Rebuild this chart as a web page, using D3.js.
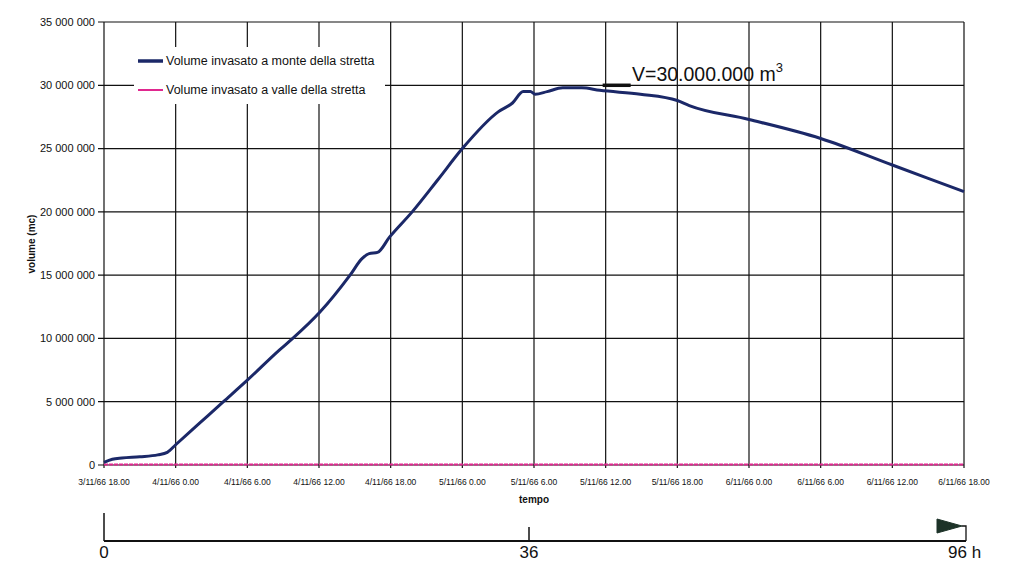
<!DOCTYPE html>
<html>
<head>
<meta charset="utf-8">
<script src="https://cdn.jsdelivr.net/npm/d3@7"></script>
<style>
  body { margin: 0; background: #fff; }
  svg { display: block; font-family: "Liberation Sans", Arial, sans-serif; }
</style>
</head>
<body>
<svg id="chart" width="1029" height="581"></svg>
<script>
// hours from 3/11/66 18.00
const upHours = [0, 0.7, 1.5, 3, 4.5, 5.3, 6, 8, 10, 12, 14.7, 15.8, 18.1, 20.6, 21.6, 22.2, 22.9, 23.9, 25.8, 28, 30, 33, 34.2, 35.1, 35.7, 36.1, 37.1, 38.4, 40, 41.5, 44.9, 48, 49, 54, 60, 66, 72];
const upVolume = [0.2e6, 0.45e6, 0.55e6, 0.65e6, 0.8e6, 1.0e6, 1.6e6, 3.3e6, 5.0e6, 6.7e6, 9.1e6, 10.0e6, 12.1e6, 15.0e6, 16.3e6, 16.7e6, 16.8e6, 18.0e6, 20.0e6, 22.6e6, 25.0e6, 27.9e6, 28.6e6, 29.5e6, 29.5e6, 29.3e6, 29.5e6, 29.8e6, 29.8e6, 29.6e6, 29.3e6, 28.8e6, 28.4e6, 27.3e6, 25.8e6, 23.7e6, 21.6e6];

const downHours = [0, 12, 24, 36, 48, 60, 72];
const downVolume = [40000, 40000, 40000, 40000, 40000, 40000, 40000];

const xTickHours = [0, 6, 12, 18, 24, 30, 36, 42, 48, 54, 60, 66, 72];
const xTickLabels = ["3/11/66 18.00", "4/11/66 0.00", "4/11/66 6.00", "4/11/66 12.00", "4/11/66 18.00",
  "5/11/66 0.00", "5/11/66 6.00", "5/11/66 12.00", "5/11/66 18.00", "6/11/66 0.00",
  "6/11/66 6.00", "6/11/66 12.00", "6/11/66 18.00"];
const yTicks = [0, 5e6, 10e6, 15e6, 20e6, 25e6, 30e6, 35e6];

const seriesNames = ["Volume invasato a monte della stretta", "Volume invasato a valle della stretta"];
const seriesColors = ["#1b2868", "#e0288f"];

// schematic time bar below the chart
const barTicks = [0, 36, 96];
const barLabels = ["0", "36", "96 h"];

const svg = d3.select("#chart");

const x = d3.scaleLinear().domain([0, 72]).range([104, 964]);
const y = d3.scaleLinear().domain([0, 35e6]).range([465, 22]);

const fmt = v => d3.format(",")(v).replace(/,/g, " ");

// grid
const grid = svg.append("g");
grid.selectAll(".hg").data(yTicks).enter().append("line")
  .attr("x1", x(0) - 6).attr("x2", x(72))
  .attr("y1", d => y(d)).attr("y2", d => y(d))
  .style("stroke", "#111").style("stroke-width", 1.2);
grid.selectAll(".vg").data(xTickHours).enter().append("line")
  .attr("x1", d => x(d)).attr("x2", d => x(d))
  .attr("y1", y(35e6)).attr("y2", y(0) + 3)
  .style("stroke", "#111").style("stroke-width", 1.2);

// y tick labels
svg.selectAll(".yl").data(yTicks).enter().append("text")
  .attr("x", 95).attr("y", d => y(d)).attr("dy", "0.35em")
  .attr("text-anchor", "end")
  .style("font-size", "11px").attr("fill", "#111")
  .text(d => fmt(d));

// x tick labels
svg.selectAll(".xl").data(xTickHours).enter().append("text")
  .attr("x", d => x(d)).attr("y", 485)
  .attr("text-anchor", "middle")
  .style("font-size", "8.5px").attr("fill", "#111")
  .text((d, i) => xTickLabels[i]);

// axis titles
svg.append("text")
  .attr("x", 534).attr("y", 503).attr("text-anchor", "middle")
  .style("font-size", "10px").style("font-weight", "bold").attr("fill", "#111")
  .text("tempo");
svg.append("text")
  .attr("transform", "translate(35,244) rotate(-90)")
  .attr("text-anchor", "middle")
  .style("font-size", "10px").style("font-weight", "bold").attr("fill", "#111")
  .text("volume (mc)");

// legend background and entries
svg.append("rect")
  .attr("x", 134).attr("y", 47).attr("width", 251).attr("height", 57)
  .attr("fill", "#fff");
const legend = svg.selectAll(".lg").data(seriesNames).enter().append("g")
  .attr("transform", (d, i) => "translate(138," + (61 + i * 29) + ")");
legend.append("line")
  .attr("x1", 0).attr("x2", 25).attr("y1", 0).attr("y2", 0)
  .style("stroke", (d, i) => seriesColors[i])
  .style("stroke-width", (d, i) => i === 0 ? 3.5 : 2);
legend.append("text")
  .attr("x", 28).attr("dy", "0.35em")
  .style("font-size", "12.5px").attr("fill", "#111")
  .text(d => d);

// series
const line = d3.line().x(d => x(d[0])).y(d => y(d[1]));
svg.append("path")
  .datum(downHours.map((h, i) => [h, downVolume[i]]))
  .attr("d", line)
  .style("fill", "none").style("stroke", seriesColors[1])
  .style("stroke-width", 2).style("stroke-dasharray", "4,1");
svg.append("path")
  .datum(upHours.map((h, i) => [h, upVolume[i]]))
  .attr("d", line.curve(d3.curveMonotoneX))
  .style("fill", "none").style("stroke", seriesColors[0])
  .style("stroke-width", 3).style("stroke-linejoin", "round");

// annotation
svg.append("line")
  .attr("x1", x(42) - 3).attr("x2", x(42) + 25)
  .attr("y1", y(30e6)).attr("y2", y(30e6))
  .style("stroke", "#111").style("stroke-width", 3.5);
const ann = svg.append("text")
  .attr("x", 632).attr("y", 81)
  .style("font-size", "19.5px").attr("fill", "#111");
ann.append("tspan").text("V=30.000.000 m");
ann.append("tspan").attr("dy", -9).style("font-size", "13px").text("3");

// schematic time bar
const tb = d3.scaleLinear().domain(barTicks).range([104, 529, 966]);
svg.append("line")
  .attr("x1", tb(0)).attr("x2", tb(96)).attr("y1", 541).attr("y2", 541)
  .style("stroke", "#111").style("stroke-width", 2);
svg.append("line")
  .attr("x1", tb(0)).attr("x2", tb(0)).attr("y1", 513).attr("y2", 541)
  .style("stroke", "#111").style("stroke-width", 1.5);
svg.append("line")
  .attr("x1", tb(36)).attr("x2", tb(36)).attr("y1", 527).attr("y2", 541)
  .style("stroke", "#111").style("stroke-width", 1.5);
svg.append("path")
  .attr("d", "M" + (tb(96) - 29) + ",519 L" + (tb(96) - 4) + ",526 L" + (tb(96) - 29) + ",533 Z")
  .attr("fill", "#1d3328").attr("stroke", "#1d3328");
svg.append("path")
  .attr("d", "M" + (tb(96) - 4) + ",526 L" + tb(96) + ",526 L" + tb(96) + ",541")
  .attr("fill", "none").style("stroke", "#111").style("stroke-width", 1.3);
svg.selectAll(".bl").data(barTicks).enter().append("text")
  .attr("x", d => d === 96 ? tb(d) - 18 : tb(d))
  .attr("y", 558)
  .attr("text-anchor", d => d === 96 ? "start" : "middle")
  .style("font-size", "17px").attr("fill", "#111")
  .text((d, i) => barLabels[i]);
</script>
</body>
</html>
